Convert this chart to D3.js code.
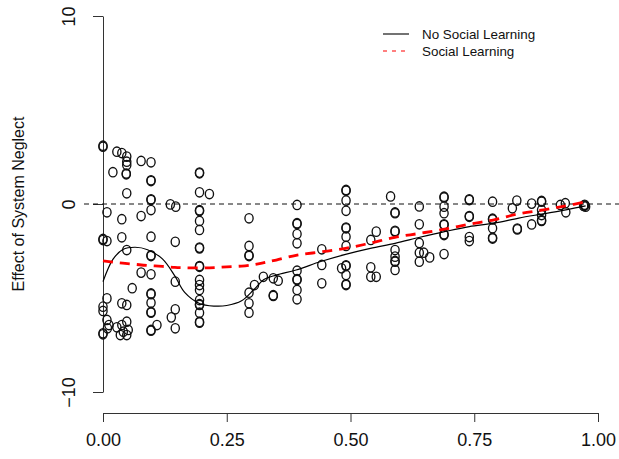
<!DOCTYPE html>
<html>
<meta charset="utf-8">
<style>
    body { margin: 0; background: white; }
    svg { display: block; font-family: "Liberation Sans", Arial, sans-serif; }
    .axis path, .axis line { stroke: #333; stroke-width: 1; }
</style>
<body>
<script src="https://cdn.jsdelivr.net/npm/d3@7"></script>
<script>
// scatter points [share, effect] (repeats = overlapping circles)
var neglectPoints = [
  [0,3.05],[0,3.10],[0,-1.86],[0,-1.92],[0,-5.46],[0,-5.69],[0,-6.88],[0,-6.93],
  [0.008,-0.44],[0.008,-1.97],[0.008,-5.02],[0.008,-6.17],[0.012,-6.44],[0.009,-6.61],
  [0.020,1.69],[0.028,2.78],[0.028,-6.56],
  [0.038,2.71],[0.038,-0.81],[0.038,-1.77],[0.038,-5.28],[0.038,-6.44],[0.035,-6.97],[0.041,-6.79],
  [0.048,2.52],[0.048,2.25],[0.048,2.07],[0.047,1.58],[0.047,1.62],[0.048,0.57],[0.048,-2.45],
  [0.048,-5.37],[0.048,-6.26],[0.051,-6.70],[0.048,-6.97],
  [0.059,-4.48],[0.077,2.29],[0.077,-0.64],[0.077,-3.65],
  [0.097,2.22],[0.097,1.22],[0.097,1.26],[0.097,0.21],[0.097,0.25],[0.097,-0.32],[0.097,-1.74],
  [0.097,-2.77],[0.097,-2.73],[0.097,-3.74],[0.097,-4.80],[0.097,-4.76],[0.097,-5.25],
  [0.097,-5.78],[0.097,-5.74],[0.097,-6.74],[0.097,-6.70],
  [0.109,-6.44],[0.136,-0.02],[0.147,-0.14],[0.146,-2.01],[0.146,-4.13],[0.146,-5.60],[0.138,-6.03],[0.146,-6.61],
  [0.195,1.63],[0.195,1.67],[0.195,0.62],[0.195,-0.37],[0.195,-0.33],[0.195,-0.90],[0.195,-1.38],
  [0.195,-2.36],[0.195,-2.32],[0.195,-3.34],[0.195,-3.30],[0.195,-4.04],[0.195,-4.31],[0.195,-4.57],
  [0.195,-5.11],[0.195,-5.37],[0.195,-5.33],[0.195,-5.78],[0.195,-6.31],[0.195,-6.27],
  [0.215,0.53],
  [0.295,-0.76],[0.295,-2.23],[0.295,-2.77],[0.295,-2.73],[0.295,-4.72],[0.295,-5.28],[0.295,-5.78],
  [0.306,-4.31],[0.324,-3.87],[0.344,-3.95],[0.354,-4.08],[0.344,-4.89],[0.344,-4.85],
  [0.392,-0.05],[0.392,-1.06],[0.392,-1.02],[0.392,-1.60],[0.392,-2.09],[0.392,-3.55],[0.392,-4.04],
  [0.392,-4.00],[0.392,-4.57],[0.392,-5.07],
  [0.442,-2.41],[0.442,-3.24],[0.442,-4.22],[0.482,-3.42],
  [0.491,0.71],[0.491,0.75],[0.491,0.18],[0.491,-0.36],[0.491,-1.29],[0.491,-1.25],[0.491,-1.74],
  [0.491,-2.23],[0.491,-3.30],[0.491,-3.26],[0.491,-3.78],[0.491,-4.31],[0.491,-4.27],
  [0.541,-1.91],[0.552,-1.47],[0.541,-3.37],[0.541,-3.87],[0.552,-3.87],
  [0.581,0.40],
  [0.590,-0.49],[0.590,-0.45],[0.590,-1.47],[0.590,-1.43],[0.590,-2.45],[0.590,-2.80],[0.590,-3.07],
  [0.590,-3.03],[0.590,-3.51],
  [0.639,-0.13],[0.639,-1.08],[0.639,-2.07],[0.639,-2.59],[0.639,-3.07],[0.648,-2.59],[0.660,-2.84],
  [0.689,0.35],[0.689,0.39],[0.689,-0.14],[0.689,-0.49],[0.689,-1.12],[0.689,-1.08],[0.689,-1.65],
  [0.689,-1.61],[0.689,-2.66],
  [0.740,0.21],[0.740,0.25],[0.740,-0.68],[0.740,-0.64],[0.740,-1.76],[0.740,-1.97],
  [0.787,0.12],[0.787,-0.82],[0.787,-0.78],[0.787,-1.29],[0.787,-1.84],[0.787,-1.80],
  [0.827,-0.23],[0.836,0.18],[0.837,-1.35],[0.837,-1.31],[0.866,0.02],[0.866,-1.09],
  [0.886,0.12],[0.886,0.16],[0.886,-0.32],[0.886,-0.59],[0.886,-0.90],[0.886,-0.86],
  [0.924,-0.05],[0.934,0.04],[0.935,-0.44],
  [0.973,-0.08],[0.973,-0.04],[0.975,-0.14],[0.971,-0.10]
];

// smoothed fits
var curveX     = [0, 0.02, 0.04, 0.065, 0.09, 0.12, 0.145, 0.165, 0.195, 0.225, 0.25, 0.28, 0.305, 0.325,
                  0.35, 0.39, 0.44, 0.49, 0.54, 0.59, 0.64, 0.69, 0.74, 0.79, 0.84, 0.89, 0.935, 0.975];
var noSocialY  = [-4.13, -2.95, -2.42, -2.30, -2.43, -2.92, -3.82, -4.70, -5.29, -5.43, -5.40, -5.15, -4.55, -4.02,
                  -3.78, -3.51, -3.06, -2.68, -2.36, -2.09, -1.77, -1.47, -1.20, -1.02, -0.75, -0.52, -0.31, -0.10];
var socialY    = [-3.02, -3.09, -3.15, -3.21, -3.27, -3.32, -3.37, -3.39, -3.40, -3.38, -3.34, -3.30, -3.22, -3.12,
                  -2.98, -2.73, -2.55, -2.36, -2.08, -1.77, -1.56, -1.34, -1.07, -0.84, -0.52, -0.31, -0.10, 0.12];

var xTicks = [0, 0.25, 0.5, 0.75, 1];
var yTicks = [-10, 0, 10];
var legendLabels = ["No Social Learning", "Social Learning"];

var W = 619, H = 459;
var svg = d3.select("body").append("svg").attr("width", W).attr("height", H);
svg.append("rect").attr("width", W).attr("height", H).attr("fill", "white");

var x = d3.scaleLinear().domain([0, 1]).range([103, 598]);
var y = d3.scaleLinear().domain([-10, 10]).range([392, 16]);

// x axis
var gx = svg.append("g").attr("class", "axis").attr("transform", "translate(0,413)")
    .call(d3.axisBottom(x).tickValues(xTicks).tickFormat(d3.format(".2f"))
          .tickSize(9).tickSizeOuter(0).tickPadding(11));
gx.selectAll("text").attr("font-size", 18).attr("fill", "#111").attr("font-family", null);

// y axis, labels rotated like base R
var gy = svg.append("g").attr("class", "axis").attr("transform", "translate(103,0)")
    .call(d3.axisLeft(y).tickValues(yTicks).tickSize(10).tickSizeOuter(0));
gy.selectAll(".tick text")
    .attr("font-size", 18).attr("fill", "#111").attr("font-family", null)
    .attr("x", 0).attr("y", -28).attr("dy", 0)
    .attr("text-anchor", "middle")
    .attr("transform", "rotate(-90)");

svg.append("text")
    .attr("transform", "translate(24,204) rotate(-90)")
    .attr("text-anchor", "middle")
    .attr("font-size", 16).attr("fill", "#111")
    .text("Effect of System Neglect");

// reference line at zero
svg.append("line")
    .attr("x1", 84).attr("x2", 619).attr("y1", y(0)).attr("y2", y(0))
    .attr("stroke", "#111").attr("stroke-width", 1).attr("stroke-dasharray", "5,4");

// points
svg.append("g").selectAll("ellipse")
    .data(neglectPoints)
    .enter().append("ellipse")
    .attr("cx", function(d) { return x(d[0]); })
    .attr("cy", function(d) { return y(d[1]); })
    .attr("rx", 4.1).attr("ry", 4.7)
    .attr("fill", "none").attr("stroke", "#111").attr("stroke-width", 1.35);

var line = d3.line().curve(d3.curveCatmullRom)
    .x(function(d) { return x(d[0]); })
    .y(function(d) { return y(d[1]); });

svg.append("path")
    .attr("d", line(d3.zip(curveX, noSocialY)))
    .attr("fill", "none").attr("stroke", "black").attr("stroke-width", 1.2);

svg.append("path")
    .attr("d", line(d3.zip(curveX, socialY)))
    .attr("fill", "none").attr("stroke", "red").attr("stroke-width", 2.8)
    .attr("stroke-dasharray", "10,7");

// legend
var leg = svg.append("g").attr("transform", "translate(383,34)");
legendLabels.forEach(function(lab, i) {
    leg.append("line").attr("x1", 0).attr("x2", 26).attr("y1", i * 17).attr("y2", i * 17)
        .attr("stroke", i ? "red" : "black").attr("stroke-width", 1.1)
        .attr("stroke-dasharray", i ? "4,5" : null);
    leg.append("text").attr("x", 39).attr("y", i * 17 + 4.8)
        .attr("font-size", 13.4).attr("fill", "#111").text(lab);
});
</script>
</body>
</html>
